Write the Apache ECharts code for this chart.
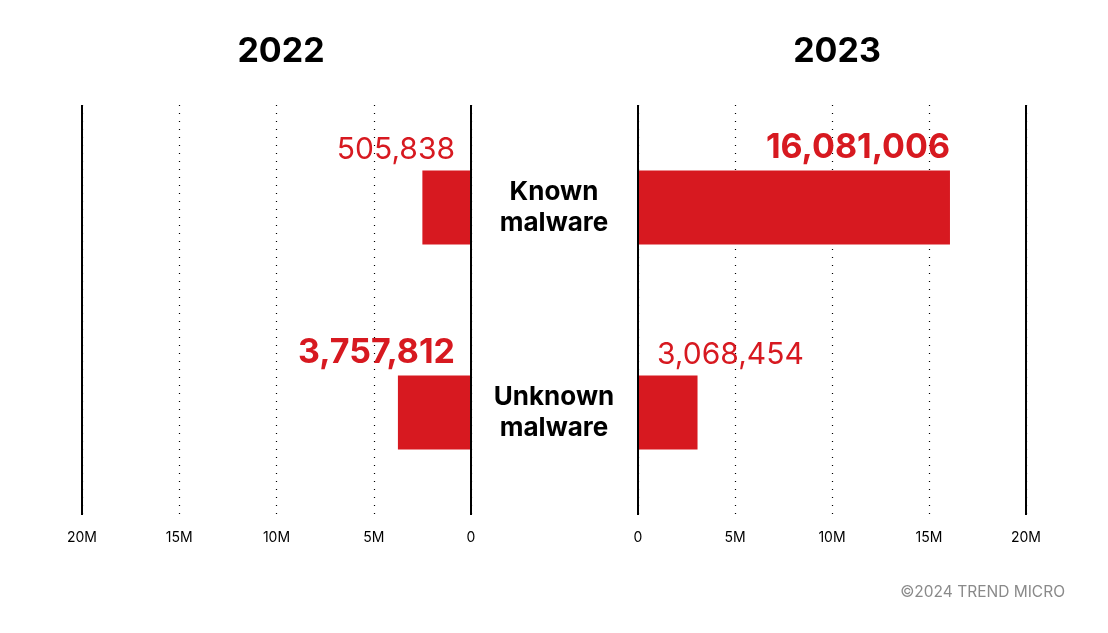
<!DOCTYPE html>
<html><head><meta charset="utf-8">
<script src="https://cdn.jsdelivr.net/npm/echarts@6/dist/echarts.min.js"></script>
<style>html,body{margin:0;background:#fff}#c{width:1108px;height:633px}</style>
</head><body><div id="c"></div>
<script>
const categories = ['Known\nmalware', 'Unknown\nmalware'];
const values2022 = [2500000, 3757812];
const values2023 = [16081006, 3068454];
const labels2022 = ['505,838', '3,757,812'];
const labels2023 = ['16,081,006', '3,068,454'];
const bold2022 = [false, true];
const bold2023 = [true, false];
const years = ['2022', '2023'];
const F = 'Inter, "Noto Sans", sans-serif';
const red = '#d71920';
function axisX(idx, inverse) {
  return {gridIndex: idx, type: 'value', min: 0, max: 20000000, interval: 5000000, inverse,
    axisLine: {show: false}, axisTick: {show: false},
    axisLabel: {color: '#000', fontFamily: F, fontSize: 14, margin: 16,
      formatter: v => v === 0 ? '0' : (v / 1e6) + 'M'},
    splitLine: {show: true, lineStyle: {type: [1, 7], color: '#000', width: 1.2}}};
}
function lab(text, bold, position, align, offset) {
  return {show: true, formatter: text, color: red, fontFamily: F,
    fontSize: bold ? 34 : 30, fontWeight: bold ? 'bold' : 'normal',
    position, align, verticalAlign: 'bottom', offset};
}
const d2022 = values2022.map((v, i) => ({value: v, label: lab(labels2022[i], bold2022[i], ['100%', -6], 'right', [-16, 0])}));
const d2023 = values2023.map((v, i) => ({value: v, label: bold2023[i]
  ? lab(labels2023[i], true, ['100%', -6], 'right', [0, 0])
  : lab(labels2023[i], false, [19, -6], 'left', [0, 0])}));
const ml = {symbol: 'none', silent: true, label: {show: false}, lineStyle: {type: 'solid', color: '#000', width: 2},
  data: [{xAxis: 0}, {xAxis: 20000000}]};
const chart = echarts.init(document.getElementById('c'));
chart.setOption({
  animation: false,
  title: [
    {text: years[0], left: 276, top: 30, textAlign: 'center', textStyle: {fontFamily: F, fontSize: 34, fontWeight: 'bold', color: '#000'}},
    {text: years[1], left: 832, top: 30, textAlign: 'center', textStyle: {fontFamily: F, fontSize: 34, fontWeight: 'bold', color: '#000'}},
    {text: '©2024 TREND MICRO', right: 38, top: 579, textStyle: {fontFamily: F, fontSize: 15.5, fontWeight: 'normal', color: '#8a8a8a'}}
  ],
  grid: [
    {left: 82, width: 389, top: 105, height: 410},
    {left: 638, width: 388, top: 105, height: 410}
  ],
  xAxis: [axisX(0, true), axisX(1, false)],
  yAxis: [
    {gridIndex: 0, type: 'category', data: categories, inverse: true, axisLine: {show: false}, axisTick: {show: false}, axisLabel: {show: false}},
    {gridIndex: 1, type: 'category', data: categories, inverse: true, axisLine: {show: false}, axisTick: {show: false},
      axisLabel: {align: 'center', margin: 84, color: '#000', fontFamily: F, fontSize: 26, fontWeight: 'bold', lineHeight: 31}}
  ],
  series: [
    {type: 'bar', xAxisIndex: 0, yAxisIndex: 0, barWidth: 74, itemStyle: {color: red}, data: d2022, markLine: ml},
    {type: 'bar', xAxisIndex: 1, yAxisIndex: 1, barWidth: 74, itemStyle: {color: red}, data: d2023, markLine: ml}
  ]
});
</script></body></html>
